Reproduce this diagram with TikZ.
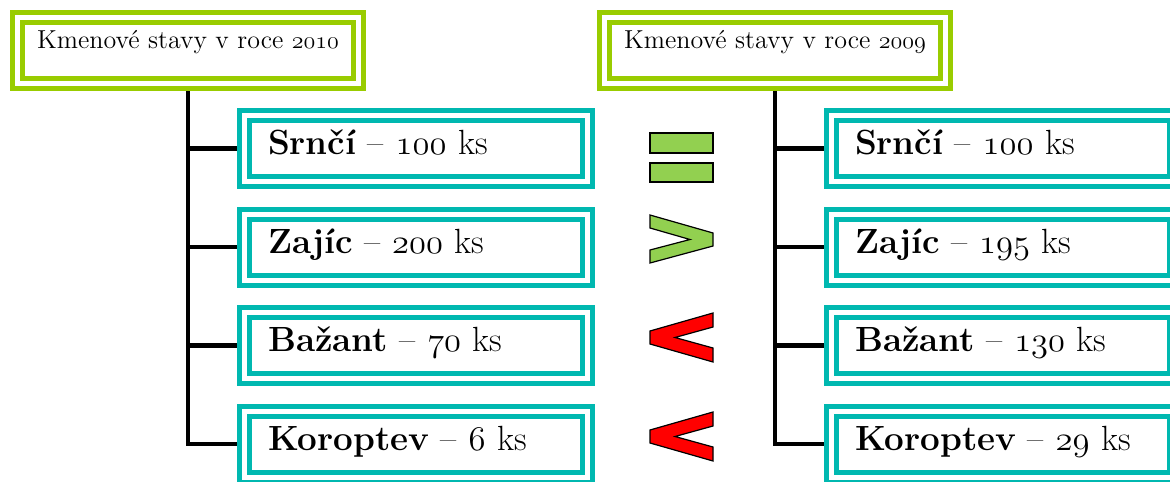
\documentclass[tikz,border=0pt]{standalone}
\usepackage{fontspec}
\usetikzlibrary{backgrounds}
\definecolor{hlava}{RGB}{153,204,0}
\definecolor{tyrkys}{RGB}{0,184,176}
\definecolor{zelena}{RGB}{146,208,80}
\newcommand\cisla[1]{{\fontencoding{OML}\fontfamily{lmm}\fontseries{m}\fontshape{it}\selectfont #1}}
\begin{document}
\begin{tikzpicture}[x=0.5pt,y=-0.5pt,line join=miter,
	hlavicka/.style={draw=hlava,double=white,line width=2.5pt,double distance=2.5pt,minimum width=170.5pt,minimum height=33pt,inner sep=0pt,text height=9pt,text depth=10.5pt,font=\fontsize{13}{15}\selectfont},
	polozka/.style={draw=tyrkys,double=white,line width=2.5pt,double distance=2.5pt,text width=148pt,minimum height=33pt,inner xsep=11.75pt,inner ysep=0pt,text height=11pt,text depth=5pt,align=left,font=\fontsize{17.5}{20}\selectfont},
	vetev/.style={line width=2.25pt},
	znak/.style={draw=black,line width=0.6pt}]
	\useasboundingbox (0,0) rectangle (1170,481);
	\node[hlavicka] (h1) at (188,50.5) {Kmenové stavy v roce \cisla{2010}};
	\node[hlavicka] (h2) at (775,50.5) {Kmenové stavy v roce \cisla{2009}};
	\node[polozka] (l1) at (416,148.5) {\textbf{Srnčí} -- \cisla{100} ks};
	\node[polozka] (l2) at (416,247) {\textbf{Zajíc} -- \cisla{200} ks};
	\node[polozka] (l3) at (416,345.5) {\textbf{Bažant} -- \cisla{70} ks};
	\node[polozka] (l4) at (416,444) {\textbf{Koroptev} -- \cisla{6} ks};
	\node[polozka] (p1) at (1003,148.5) {\textbf{Srnčí} -- \cisla{100} ks};
	\node[polozka] (p2) at (1003,247) {\textbf{Zajíc} -- \cisla{195} ks};
	\node[polozka] (p3) at (1003,345.5) {\textbf{Bažant} -- \cisla{130} ks};
	\node[polozka] (p4) at (1003,444) {\textbf{Koroptev} -- \cisla{29} ks};
	\begin{scope}[on background layer]
		\foreach \i in {1,...,4}{
			\draw[vetev] (h1.south) |- (l\i.west);
			\draw[vetev] (h2.south) |- (p\i.west);
		}
	\end{scope}
	\filldraw[znak,fill=zelena] (650,133) rectangle (713,153);
	\filldraw[znak,fill=zelena] (650,163) rectangle (713,182);
	\filldraw[znak,fill=zelena] (650,215)--(713,233)--(713,246)--(650,263)--(650,250)--(690,239.5)--(650,228)--cycle;
	\foreach \dy in {0,99}
		\filldraw[znak,fill=red,yshift=-\dy*0.5pt] (713,313)--(650,331)--(650,344)--(713,362)--(713,348)--(675,337.5)--(713,327)--cycle;
\end{tikzpicture}
\end{document}
